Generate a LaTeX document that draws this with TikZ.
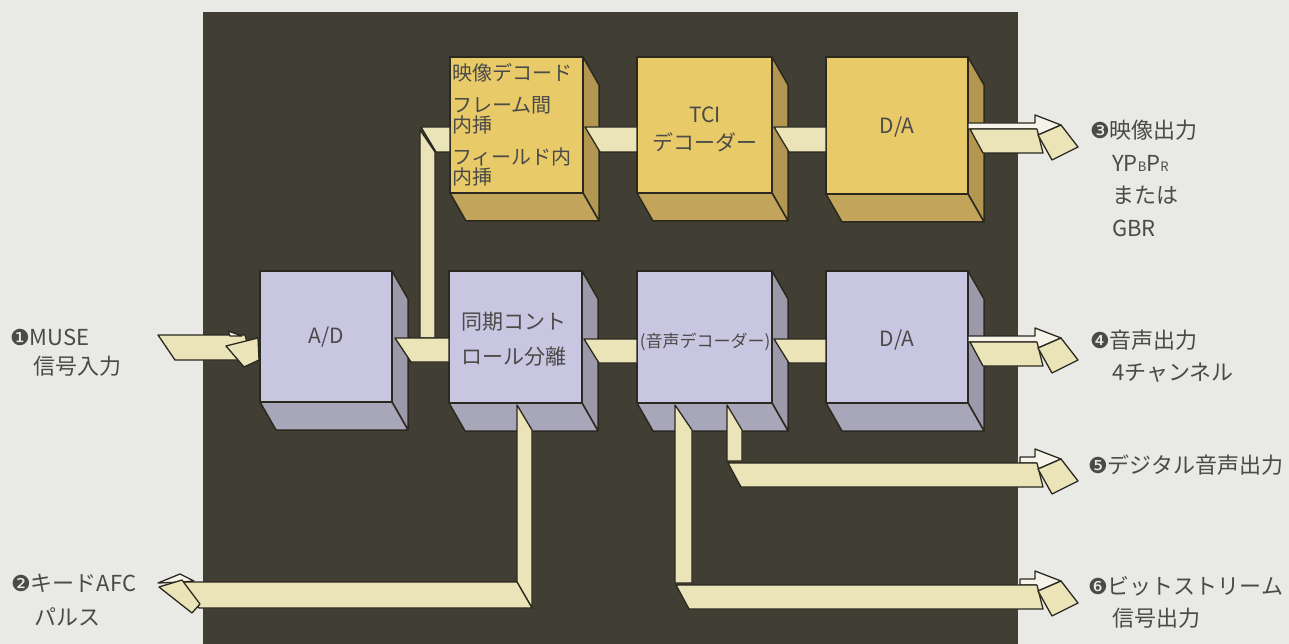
\documentclass[tikz,border=0pt]{standalone}
\usepackage{fontspec}
\setmainfont{Noto Sans CJK JP}
\newfontfamily\dv{DejaVu Sans}
\definecolor{bg}{HTML}{E9E9E6}
\definecolor{panel}{HTML}{413E34}
\definecolor{edge}{HTML}{2A281F}
\definecolor{goldF}{HTML}{E8CA68}
\definecolor{goldS}{HTML}{B39650}
\definecolor{goldB}{HTML}{C2A45A}
\definecolor{lavF}{HTML}{C9C6E2}
\definecolor{lavS}{HTML}{9C9AAA}
\definecolor{lavB}{HTML}{A8A6B9}
\definecolor{cream}{HTML}{EAE4B8}
\definecolor{wh}{HTML}{F5F3EA}
\definecolor{txt}{HTML}{4A4A48}
\tikzset{
  cubeedge/.style={draw=edge,line width=1.5pt,line join=round},
  conn/.style={draw=edge,line width=1.3pt,line join=round},
  lbl/.style={font=\fontsize{22}{22}\selectfont,text=txt,inner sep=0pt,anchor=west},
  boxtxt/.style={font=\fontsize{21}{21}\selectfont,text=txt,inner sep=0pt},
  smalltxt/.style={font=\fontsize{20}{20}\selectfont,text=txt,inner sep=0pt,anchor=west}
}
\newcommand\cubex[6]{%
  \filldraw[fill=#6S,cubeedge] (#4,#3) -- (#4+16,#3+28) -- (#4+16,#5+28) -- (#4,#5) -- cycle;
  \filldraw[fill=#6B,cubeedge] (#2,#5) -- (#4,#5) -- (#4+16,#5+28) -- (#2+16,#5+28) -- cycle;
  \filldraw[fill=#6F,cubeedge] (#2,#3) rectangle (#4,#5);
  \coordinate (#1) at ({(#2+#4)/2},{(#3+#5)/2});
}
\newcommand\outarrow[3]{%
  \filldraw[fill=wh,conn] (#3,#2-6) -- (1035,#2-6) -- (1035,#2-14) -- (1061,#2-4) -- (1038,#2+6) -- (1036,#2) -- (#3,#2) -- cycle;
  \filldraw[fill=cream,conn] (#1,#2) -- (1037,#2) -- (1043,#2+24) -- (#1+13,#2+24) -- cycle;
  \filldraw[fill=cream,conn] (1038,#2+6) -- (1061,#2-4) -- (1078,#2+18) -- (1052,#2+31) -- cycle;
}
\begin{document}
\begin{tikzpicture}[x=1pt,y=-1pt]
\useasboundingbox (0,0) rectangle (1289,644);
\fill[bg] (0,0) rectangle (1289,644);
\fill[panel] (203,12) rectangle (1018,644);

% boxes
\cubex{vdec}{450}{57}{583}{193}{gold}
\cubex{tci}{637}{57}{772}{193}{gold}
\cubex{da1}{826}{57}{968}{194}{gold}
\cubex{ad}{260}{271}{392}{402}{lav}
\cubex{sync}{449}{271}{582}{403}{lav}
\cubex{adec}{637}{271}{772}{403}{lav}
\cubex{da2}{826}{271}{968}{403}{lav}

% connectors between boxes
\filldraw[fill=cream,conn] (420,130) -- (435,152) -- (435,338) -- (420,338) -- cycle;
\filldraw[fill=cream,conn] (421,127) -- (450,127) -- (450,152) -- (436,152) -- cycle;
\filldraw[fill=cream,conn] (395,338) -- (449,338) -- (449,362) -- (411,362) -- cycle;
\filldraw[fill=cream,conn] (585,127) -- (637,127) -- (637,152) -- (600,152) -- cycle;
\filldraw[fill=cream,conn] (774,127) -- (826,127) -- (826,152) -- (789,152) -- cycle;
\filldraw[fill=cream,conn] (584,339) -- (637,339) -- (637,363) -- (599,363) -- cycle;
\filldraw[fill=cream,conn] (774,339) -- (826,339) -- (826,363) -- (789,363) -- cycle;

% input arrow (1)
\filldraw[fill=cream,conn] (158,335) -- (245,335) -- (252,360) -- (175,360) -- cycle;
\filldraw[fill=wh,conn] (228,331) -- (242,336) -- (230,336) -- cycle;
\filldraw[fill=cream,conn] (226,346) -- (258,338) -- (259,360) -- (244,367) -- cycle;

% AFC (2)
\filldraw[fill=cream,conn] (517,405) -- (532,430) -- (532,608) -- (517,582) -- cycle;
\filldraw[fill=cream,conn] (180,582) -- (517,582) -- (532,608) -- (199,608) -- cycle;
\filldraw[fill=wh,conn] (158,583) -- (180,574) -- (194,581) -- (182,582) -- cycle;
\filldraw[fill=cream,conn] (159,587) -- (182,580) -- (200,604) -- (192,613) -- cycle;

% outputs
\outarrow{970}{129}{968}
\outarrow{970}{342}{968}
\filldraw[fill=cream,conn] (727,405) -- (742,430) -- (742,461) -- (727,461) -- cycle;
\outarrow{728}{463}{1020}
\filldraw[fill=cream,conn] (675,405) -- (692,430) -- (692,583) -- (675,583) -- cycle;
\outarrow{676}{585}{1020}

% box texts
\node[smalltxt] (t1) at (452,73) {映像デコード};
\node[smalltxt] (t2) at (452,105) {フレーム間};
\node[smalltxt] (t3) at (452,125) {内挿};
\node[smalltxt] (t4) at (452,157) {フィールド内};
\node[smalltxt] (t5) at (452,177) {内挿};
\node[boxtxt] (t6) at (705,115) {TCI};
\node[boxtxt] (t7) at (705,142) {デコーダー};
\node[boxtxt] (t8) at (897,127) {D/A};
\node[boxtxt] (t9) at (326,337) {A/D};
\node[boxtxt,anchor=west] (t10) at (461,322) {同期コント};
\node[boxtxt,anchor=west] (t11) at (461,357) {ロール分離};
\node[boxtxt,font=\fontsize{17}{17}\selectfont] (t12) at (705,342) {(音声デコーダー)};
\node[boxtxt] (t13) at (897,340) {D/A};

% outside labels
\node[lbl] (l1) at (10,337) {{\dv ❶}MUSE};
\node[lbl] (l1b) at (33,366) {信号入力};
\node[lbl] (l2) at (11,583) {{\dv ❷}キードAFC};
\node[lbl] (l2b) at (34,617) {パルス};
\node[lbl] (l3) at (1090,130) {{\dv ❸}映像出力};
\node[lbl] (l3b) at (1112,163) {YP{\fontsize{13}{13}\selectfont B}P{\fontsize{13}{13}\selectfont R}};
\node[lbl] (l3c) at (1112,195) {または};
\node[lbl] (l3d) at (1112,228) {GBR};
\node[lbl] (l4) at (1090,340) {{\dv ❹}音声出力};
\node[lbl] (l4b) at (1112,373) {4チャンネル};
\node[lbl] (l5) at (1088,465) {{\dv ❺}デジタル音声出力};
\node[lbl] (l6) at (1088,586) {{\dv ❻}ビットストリーム};
\node[lbl] (l6b) at (1112,618) {信号出力};
\end{tikzpicture}
\end{document}
